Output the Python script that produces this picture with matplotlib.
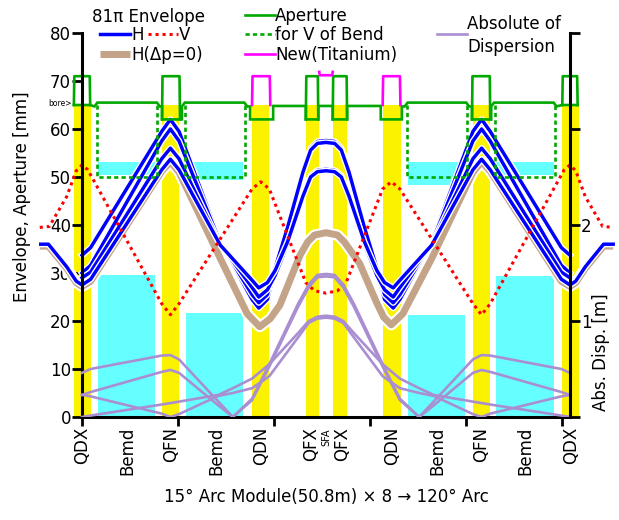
import matplotlib
matplotlib.use('Agg')
import matplotlib.pyplot as plt
from matplotlib.lines import Line2D
from matplotlib.patches import Rectangle
import matplotlib.patheffects as pe

plt.rcParams['font.family'] = ['DejaVu Sans']

# ---------------- data ----------------
# quadrupoles: centre position [m], half length [m]
quad_s = [0.05, 9.2, 18.6, 24.0, 26.86, 32.25, 41.6, 50.85]
quad_hw = [0.88, 0.9, 0.9, 0.7, 0.7, 0.95, 0.85, 0.88]
bore = 65.0

# bends: start, end, lower block top, upper block bottom/top [mm]
bend_start = [1.67, 10.8, 33.9, 43.1]
bend_end = [7.6, 16.8, 39.9, 49.1]
bend_low_top = [29.6, 21.7, 21.3, 29.4]
bend_up_bot = [50.4, 49.4, 48.3, 50.4]
bend_up_top = [53.1, 53.1, 53.1, 53.1]

# vertical aperture of bends (dashed)
vb_start = [1.56, 10.7, 33.8, 43.0]
vb_end = [7.8, 17.0, 40.1, 49.2]
vb_level = 50.0

# main aperture line
ap_s = [-0.85, 0.85, 1.3, 1.6, 7.8, 8.1, 8.33, 8.33, 10.4, 10.4, 10.7, 16.9, 17.2, 17.5, 17.5,
        19.9, 19.9, 23.3, 23.3, 24.6, 24.6, 26.1, 26.1, 27.6, 27.6, 31.1, 31.1, 33.3, 33.3,
        33.6, 33.9, 40.0, 40.3, 40.6, 40.6, 42.6, 42.6, 42.9, 49.1, 49.4, 50.0, 51.6]
ap_v = [65.0, 65.0, 64.7, 65.5, 65.5, 64.7, 64.7, 62.0, 62.0, 64.7, 65.5, 65.5, 64.7, 64.7, 62.0,
        62.0, 64.8, 64.8, 62.0, 62.0, 64.8, 64.8, 62.0, 62.0, 64.8, 64.8, 62.0, 62.0, 64.7,
        64.7, 65.5, 65.5, 64.7, 64.7, 62.0, 62.0, 64.7, 65.5, 65.5, 64.7, 65.0, 65.0]
# quad aperture boxes (upper part): start, end, base
box_start = [-0.85, 8.33, 23.3, 26.1, 40.6, 50.0]
box_end = [0.85, 10.2, 24.6, 27.6, 42.5, 51.6]
box_base = [65.0, 62.0, 62.0, 62.0, 62.0, 65.0]
box_top = 71.0
# new titanium chambers
ti_start = [17.7, 31.3]
ti_end = [19.6, 33.15]
ti_top = 71.0
ti_link_s = [24.7, 24.75, 26.05, 26.1]
ti_link_v = [71.9, 71.2, 71.2, 71.9]

# horizontal envelopes [mm]
s_h = [0, 0.9, 8.3, 9.2, 10.1, 14.4, 17.7, 18.4, 19.3, 20.1, 21.4, 23.0, 23.8, 24.5, 25.4,
       26.3, 27.0, 27.8, 29.4, 30.7, 31.5, 32.4, 33.1, 36.4, 40.7, 41.6, 42.5, 49.9, 50.8]
h_a = [33.7, 35.3, 59.5, 62.0, 59.5, 36.5, 24.5, 22.7, 24.5, 30.5, 39.5, 51.5, 56.0, 57.4, 57.6,
       57.4, 56.0, 51.5, 39.5, 30.5, 24.5, 22.7, 24.5, 36.5, 59.5, 62.0, 59.5, 35.3, 33.7]
h_b = [30.0, 31.6, 57.5, 60.0, 57.5, 36.3, 25.5, 23.8, 25.5, 31.0, 39.5, 51.0, 55.6, 57.0, 57.2,
       57.0, 55.6, 51.0, 39.5, 31.0, 25.5, 23.8, 25.5, 36.3, 57.5, 60.0, 57.5, 31.6, 30.0]
h_c = [29.0, 30.2, 53.8, 56.0, 53.8, 36.0, 27.0, 25.0, 26.5, 29.5, 36.0, 46.5, 50.3, 51.4, 51.6,
       51.4, 50.3, 46.5, 36.0, 29.5, 26.5, 25.0, 27.0, 36.0, 53.8, 56.0, 53.8, 30.2, 29.0]
s_hd = [-4.4, -3.5, -1.6, -0.6, 0, 0.9, 8.3, 9.2, 10.1, 14.4, 17.7, 18.4, 19.3, 20.1, 21.4, 23.0,
        23.8, 24.5, 25.4, 26.3, 27.0, 27.8, 29.4, 30.7, 31.5, 32.4, 33.1, 36.4, 40.7, 41.6, 42.5,
        49.9, 50.8, 51.4, 52.4, 54.3, 55.3]
h_d = [36.0, 36.0, 31.3, 28.3, 27.5, 28.7, 51.5, 53.7, 51.5, 35.8, 28.5, 26.9, 28.0, 30.5, 36.5,
       46.0, 50.0, 51.1, 51.3, 51.1, 50.0, 46.0, 36.5, 30.5, 28.0, 26.9, 28.5, 35.8, 51.5, 53.7,
       51.5, 28.7, 27.5, 28.3, 31.3, 36.0, 36.0]
# H envelope dp=0
s_h0 = [-4.4, -3.5, -1.6, -0.6, 0, 0.9, 8.3, 9.2, 10.1, 14.4, 17.2, 18.5, 19.6, 20.6, 22.7, 23.5,
        24.2, 25.4, 26.6, 27.3, 28.9, 30.7, 31.4, 32.2, 33.4, 36.4, 40.7, 41.6, 42.5, 49.9, 50.8,
        51.4, 52.4, 54.3, 55.3]
h_0 = [35.6, 35.6, 31.0, 28.0, 27.2, 28.3, 51.2, 53.2, 51.0, 33.0, 21.5, 18.8, 20.5, 23.3, 33.7,
       36.5, 37.9, 38.4, 37.9, 36.5, 32.0, 23.7, 20.8, 19.2, 21.5, 33.0, 51.0, 53.2, 51.2, 28.3,
       27.2, 28.0, 31.0, 35.6, 35.6]
# vertical envelope [mm]
s_v = [-4.4, -3.4, -1.6, -0.6, 0, 0.6, 8.3, 9.2, 10.1, 17.7, 18.6, 19.5, 23.3, 24.2, 25.4, 26.6,
       27.5, 31.3, 32.2, 33.1, 40.7, 41.6, 42.5, 50.2, 50.8, 51.4, 52.4, 54.2, 55.3]
v_env = [39.5, 39.7, 45.9, 51.3, 52.5, 51.5, 23.6, 21.3, 23.6, 47.5, 49.0, 47.5, 28.0, 26.3, 25.8,
         26.3, 28.0, 47.5, 49.0, 47.5, 23.6, 21.3, 23.6, 51.5, 52.5, 51.3, 45.9, 39.7, 39.5]
# absolute dispersion [m]
s_d = [0, 0.9, 8.3, 9.2, 10.1, 14.2, 15.7, 17.7, 19.5, 22.5, 23.6, 24.5, 25.4, 26.3, 27.2, 28.3,
       31.3, 33.1, 35.1, 36.6, 40.7, 41.6, 42.5, 49.9, 50.8]
disp_1 = [0.46, 0.50, 0.64, 0.645, 0.60, 0.16, 0.0, 0.19, 0.55, 1.18, 1.38, 1.48, 1.49, 1.48, 1.38,
          1.18, 0.55, 0.19, 0.0, 0.16, 0.60, 0.645, 0.64, 0.50, 0.46]
disp_2 = [0.23, 0.26, 0.47, 0.49, 0.46, 0.12, 0.0, 0.175, 0.525, 1.15, 1.35, 1.455, 1.465, 1.455,
          1.35, 1.15, 0.525, 0.175, 0.0, 0.12, 0.46, 0.49, 0.47, 0.26, 0.23]
disp_3 = [0.23, 0.215, 0.035, 0.0, 0.03, 0.22, 0.25, 0.30, 0.425, 0.83, 0.98, 1.025, 1.035, 1.025,
          0.98, 0.83, 0.425, 0.30, 0.25, 0.22, 0.03, 0.0, 0.035, 0.215, 0.23]
disp_4 = [0.0, 0.015, 0.13, 0.145, 0.16, 0.23, 0.30, 0.40, 0.55, 0.875, 1.0, 1.045, 1.055, 1.045,
          1.0, 0.875, 0.55, 0.40, 0.30, 0.23, 0.16, 0.145, 0.13, 0.015, 0.0]

elem_labels = ['QDX', 'Bemd', 'QFN', 'Bemd', 'QDN', 'QFX', 'QFX', 'QDN', 'Bemd', 'QFN', 'Bemd', 'QDX']
elem_pos = [0.05, 4.7, 9.3, 14.0, 18.6, 23.85, 27.05, 32.3, 37.0, 41.5, 46.2, 50.9]
sfa_pos = 25.45
left_ticks = [0, 10, 20, 30, 40, 50, 60, 70, 80]
right_ticks = [0, 1, 2, 3, 4]
right_ticklabels = ['', '1', '2', '', '']
x_ticks = [0, 10, 20, 30, 40, 50]

# ---------------- colours ----------------
YEL = '#fbf200'
CYA = '#66ffff'
BLUE = '#0000ff'
RED = '#ff0000'
GREEN = '#00a800'
MAG = '#ff00ff'
BROWN = '#c4a488'
PURP = '#a98ed2'

W, H = 619, 520
fig = plt.figure(figsize=(W / 100, H / 100), dpi=100)
ax = fig.add_axes([38.8 / W, (H - 417) / H, (615.1 - 38.8) / W, 384 / H])
ax.set_xlim(-4.5, 55.5)
ax.set_ylim(0, 80)
ax2 = ax.twinx()
ax2.set_ylim(0, 4)

# background elements
for c, hw in zip(quad_s, quad_hw):
    ax.add_patch(Rectangle((c - hw, 0), 2 * hw, bore, color=YEL, lw=0, zorder=1))
for a, b, lt, ub, ut in zip(bend_start, bend_end, bend_low_top, bend_up_bot, bend_up_top):
    ax.add_patch(Rectangle((a, 0), b - a, lt, color=CYA, lw=0, zorder=1))
    ax.add_patch(Rectangle((a, ub), b - a, ut - ub, color=CYA, lw=0, zorder=1))

# apertures
ax.plot(ap_s, ap_v, color=GREEN, lw=1.9, zorder=6, solid_joinstyle='miter')
for a, b, base in zip(box_start, box_end, box_base):
    ax.plot([a, a + 0.05, b - 0.05, b], [base, box_top, box_top, base], color=GREEN, lw=1.9, zorder=6)
for a, b in zip(ti_start, ti_end):
    ax.plot([a, a + 0.05, b - 0.05, b], [bore, ti_top, ti_top, bore], color=MAG, lw=1.9, zorder=6)
ax.plot(ti_link_s, ti_link_v, color=MAG, lw=1.9, zorder=6)
for a, b in zip(vb_start, vb_end):
    ax.plot([a, a, b, b], [bore, vb_level, vb_level, bore], color=GREEN, lw=1.9,
            dashes=(1.6, 1.2), zorder=6)

white = lambda w: [pe.Stroke(linewidth=w, foreground='white'), pe.Normal()]

# envelopes
ax.plot(s_h0, h_0, color=BROWN, lw=5.0, zorder=3.5, solid_capstyle='butt',
        path_effects=white(8.0))
for vals, ss in [(h_a, s_h), (h_b, s_h), (h_c, s_h), (h_d, s_hd)]:
    ax.plot(ss, vals, color=BLUE, lw=2.5, zorder=4, path_effects=white(4.5))
ax.plot(s_v, v_env, color=RED, lw=2.2, dashes=(1.0, 1.3), zorder=4.5)

# dispersion on right axis
for dv in (disp_1, disp_2, disp_3, disp_4):
    ax2.plot(s_d, dv, color=PURP, lw=1.9, zorder=3)

# spines
for sp in ('top', 'right'):
    ax.spines[sp].set_visible(False)
for sp in ('top', 'left', 'bottom'):
    ax2.spines[sp].set_visible(False)
ax.spines['left'].set_position(('data', 0))
ax.spines['left'].set_bounds(0, 80)
ax.spines['bottom'].set_bounds(0, 50.8)
ax2.spines['right'].set_position(('data', 50.8))
ax2.spines['right'].set_bounds(0, 4)
for s_ in (ax.spines['left'], ax.spines['bottom'], ax2.spines['right']):
    s_.set_linewidth(2.2)
    s_.set_zorder(7)

ax.set_yticks(left_ticks)
ax.set_xticks(x_ticks)
ax.set_xticklabels([''] * len(x_ticks))
ax.tick_params(axis='y', direction='out', length=7, width=2, pad=1, labelsize=12)
ax.tick_params(axis='x', direction='out', length=6.5, width=2)
ax2.set_yticks(right_ticks)
ax2.set_yticklabels(right_ticklabels)
ax2.tick_params(axis='y', direction='out', length=7, width=2, pad=1, labelsize=12)

# element labels
tr = ax.get_xaxis_transform()
ylab = (417 - 427) / 384
for lab, p in zip(elem_labels, elem_pos):
    ax.text(p, ylab, lab, rotation=90, ha='center', va='top', fontsize=12, transform=tr)
ax.text(sfa_pos, (417 - 429) / 384, 'SFA', rotation=90, ha='center', va='top', fontsize=7,
        transform=tr)

# axis titles
fig.text(22 / W, 1 - 197 / H, 'Envelope, Aperture [mm]', rotation=90, ha='center', va='center', fontsize=12)
fig.text(601 / W, 1 - 352 / H, 'Abs. Disp. [m]', rotation=90, ha='center', va='center', fontsize=12)
fig.text(326 / W, 1 - 497 / H, '15° Arc Module(50.8m) × 8 → 120° Arc', ha='center', va='center', fontsize=12)
fig.text(72 / W, 1 - 104 / H, 'bore>', ha='right', va='center', fontsize=5.5)

# legend (manual)
def lline(x0, x1, y, **kw):
    fig.add_artist(Line2D([x0 / W, x1 / W], [1 - y / H, 1 - y / H], transform=fig.transFigure, **kw))

def ltext(x, y, s):
    fig.text(x / W, 1 - y / H, s, ha='left', va='center', fontsize=12)

ltext(92, 17, '81π Envelope')
lline(100, 130, 34, color=BLUE, lw=2.5)
ltext(131, 35, 'H')
lline(148, 178, 34, color=RED, lw=2.2, dashes=(1.0, 1.3))
ltext(179, 35, 'V')
lline(100, 130, 54, color=BROWN, lw=5.0, solid_capstyle='butt')
ltext(131, 55, 'H(Δp=0)')
lline(245, 275, 15, color=GREEN, lw=1.9)
ltext(275, 16, 'Aperture')
lline(245, 275, 34, color=GREEN, lw=1.9, dashes=(1.6, 1.2))
ltext(275, 35, 'for V of Bend')
lline(245, 275, 54, color=MAG, lw=1.9)
ltext(275, 55, 'New(Titanium)')
lline(437, 467, 34, color=PURP, lw=1.9)
ltext(467, 24, 'Absolute of')
ltext(467, 47, 'Dispersion')

fig.savefig('out.png', dpi=100)
